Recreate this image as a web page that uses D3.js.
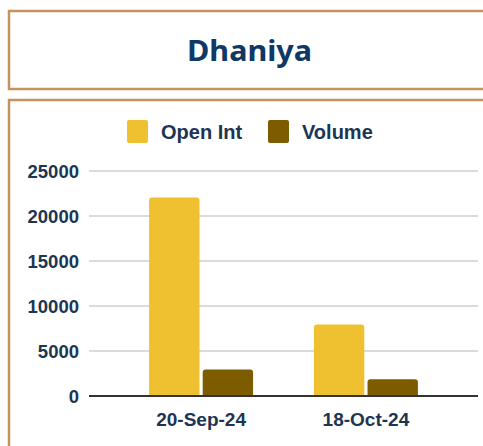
<!DOCTYPE html>
<html>
<head>
<meta charset="utf-8">
<script src="https://cdn.jsdelivr.net/npm/d3@7"></script>
<style>
  body { margin: 0; background: #fff; }
  svg { display: block; }
  .tick-label { font-family: "Liberation Sans", Arial, sans-serif; font-weight: bold; fill: #1c3553; }
</style>
</head>
<body>
<div id="chart"></div>
<script>
//Chart data
const title = "Dhaniya";
const dates = ["20-Sep-24", "18-Oct-24"];
const seriesNames = ["Open Int", "Volume"];
const openInt = [22050, 7950];
const volume = [2950, 1850];
const yTicks = [0, 5000, 10000, 15000, 20000, 25000];
const colors = ["#efc02f", "#7d5c00"];

const width = 483;
const height = 446;

const svg = d3.select("#chart")
    .append("svg")
    .attr("width", width)
    .attr("height", height);

//Title box
svg.append("rect")
    .attr("x", 9)
    .attr("y", 11)
    .attr("width", 490)
    .attr("height", 78)
    .attr("fill", "#fff")
    .attr("stroke", "#c4945c")
    .attr("stroke-width", 2.5);

svg.append("text")
    .attr("x", 249.5)
    .attr("y", 61)
    .attr("text-anchor", "middle")
    .attr("textLength", 125)
    .attr("lengthAdjust", "spacingAndGlyphs")
    .style("font-family", "'Noto Sans', sans-serif")
    .style("font-weight", "bold")
    .style("font-size", "29px")
    .style("fill", "#0e3866")
    .text(title);

//Chart box
svg.append("rect")
    .attr("x", 9)
    .attr("y", 100)
    .attr("width", 490)
    .attr("height", 400)
    .attr("fill", "#fff")
    .attr("stroke", "#c4945c")
    .attr("stroke-width", 2.5);

//Scales
const y = d3.scaleLinear()
    .domain([0, 25000])
    .range([396, 171]);

const x0 = d3.scaleBand()
    .domain(dates)
    .range([89, 478])
    .paddingInner(0)
    .paddingOuter(0.18);

const x1 = d3.scaleBand()
    .domain(seriesNames)
    .range([x0.bandwidth() / 2 - 52, x0.bandwidth() / 2 + 52])
    .paddingInner(0.06);

//Gridlines
svg.append("g")
    .selectAll("line")
    .data(yTicks.filter(d => d > 0))
    .enter()
    .append("line")
    .attr("x1", 89)
    .attr("x2", 478)
    .attr("y1", d => y(d))
    .attr("y2", d => y(d))
    .attr("stroke", "#cfcfcf")
    .attr("stroke-width", 1.5);

//Y labels
svg.append("g")
    .selectAll("text")
    .data(yTicks)
    .enter()
    .append("text")
    .attr("class", "tick-label")
    .attr("x", 79)
    .attr("y", d => y(d) + 6.5)
    .attr("text-anchor", "end")
    .style("font-size", "18.5px")
    .text(d => d);

//Bars
const rows = dates.map((d, i) => ({ date: d, values: [openInt[i], volume[i]] }));

const groups = svg.selectAll(".group")
    .data(rows)
    .enter()
    .append("g")
    .attr("class", "group")
    .attr("transform", d => "translate(" + x0(d.date) + ",0)");

groups.selectAll("path")
    .data(d => d.values.map((v, i) => ({ key: seriesNames[i], value: v, color: colors[i] })))
    .enter()
    .append("path")
    .attr("d", d => {
        const bx = x1(d.key), bw = x1.bandwidth(), top = y(d.value), base = y(0), r = 3;
        return "M" + bx + "," + base + "V" + (top + r) +
            "Q" + bx + "," + top + " " + (bx + r) + "," + top +
            "H" + (bx + bw - r) +
            "Q" + (bx + bw) + "," + top + " " + (bx + bw) + "," + (top + r) +
            "V" + base + "Z";
    })
    .attr("fill", d => d.color);

//Baseline
svg.append("line")
    .attr("x1", 89)
    .attr("x2", 478)
    .attr("y1", y(0))
    .attr("y2", y(0))
    .attr("stroke", "#333")
    .attr("stroke-width", 2);

//X labels
svg.append("g")
    .selectAll("text")
    .data(dates)
    .enter()
    .append("text")
    .attr("class", "tick-label")
    .attr("x", d => x0(d) + x0.bandwidth() / 2)
    .attr("y", 426)
    .attr("text-anchor", "middle")
    .style("font-size", "19px")
    .text(d => d);

//Legend
const legendX = [127, 268];
seriesNames.forEach((name, i) => {
    svg.append("rect")
        .attr("x", legendX[i])
        .attr("y", 120)
        .attr("width", 21)
        .attr("height", 23)
        .attr("rx", 2)
        .attr("fill", colors[i]);
    svg.append("text")
        .attr("class", "tick-label")
        .attr("x", legendX[i] + 34)
        .attr("y", 139)
        .style("font-size", "20px")
        .text(name);
});
</script>
</body>
</html>
